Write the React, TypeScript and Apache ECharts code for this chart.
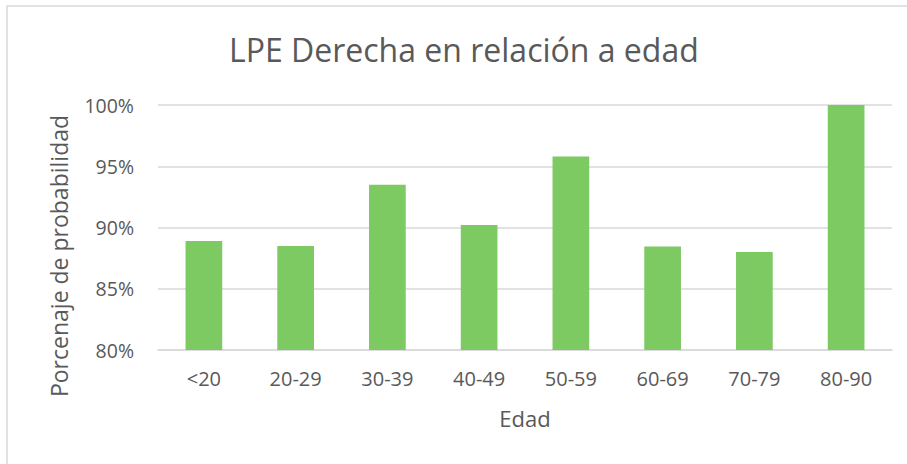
import React, { useEffect, useRef } from "react";
import * as echarts from "echarts";

const categories = ["<20", "20-29", "30-39", "40-49", "50-59", "60-69", "70-79", "80-90"];
const values = [88.9, 88.5, 93.5, 90.2, 95.8, 88.45, 88.0, 100];
const yTicks = { min: 80, max: 100, interval: 5 };
const title = "LPE Derecha en relación a edad";
const xName = "Edad";
const yName = "Porcenaje de probabilidad";

export default function App() {
  const ref = useRef<HTMLDivElement>(null);
  useEffect(() => {
    if (!ref.current) return;
    const chart = echarts.init(ref.current, null, { renderer: "svg" });
    const textColor = "#595959";
    chart.setOption({
      animation: false,
      backgroundColor: "#ffffff",
      title: {
        text: title,
        left: 224,
        top: 28,
        textStyle: {
          fontFamily: "Open Sans",
          fontWeight: 400,
          fontSize: 32,
          color: textColor,
        },
      },
      grid: { left: 158, right: 15, top: 105, bottom: 114, containLabel: false },
      xAxis: {
        type: "category",
        data: categories,
        name: xName,
        nameLocation: "middle",
        nameGap: 57,
        nameTextStyle: { fontFamily: "Open Sans", fontSize: 22, color: textColor },
        axisLine: { show: true, lineStyle: { color: "#d9d9d9", width: 1.5 } },
        axisTick: { show: false },
        axisLabel: { fontFamily: "Open Sans", fontSize: 20, color: textColor, margin: 18 },
      },
      yAxis: {
        type: "value",
        min: yTicks.min,
        max: yTicks.max,
        interval: yTicks.interval,
        axisLine: { show: false },
        axisTick: { show: false },
        splitLine: { lineStyle: { color: "#d9d9d9", width: 1.5 } },
        axisLabel: {
          formatter: "{value}%",
          fontFamily: "Open Sans",
          fontSize: 19.5,
          color: textColor,
          margin: 24,
        },
      },
      graphic: [
        {
          type: "rect",
          shape: { x: 7, y: 6, width: 1000, height: 1000 },
          style: { fill: "none", stroke: "#d9d9d9", lineWidth: 1.5 },
          silent: true,
          z: -10,
        },
        {
          type: "text",
          x: 59,
          y: 256,
          rotation: Math.PI / 2,
          style: {
            text: yName,
            fontFamily: "Open Sans",
            fontSize: 23,
            fill: textColor,
            align: "center",
            verticalAlign: "middle",
          },
        },
      ],
      series: [
        {
          type: "bar",
          data: values,
          barWidth: "40%",
          itemStyle: { color: "#7dca63" },
        },
      ],
    });
    return () => chart.dispose();
  }, []);
  return (
    <div
      ref={ref}
      style={{ position: "absolute", left: 0, top: 0, width: 907, height: 464 }}
    />
  );
}
